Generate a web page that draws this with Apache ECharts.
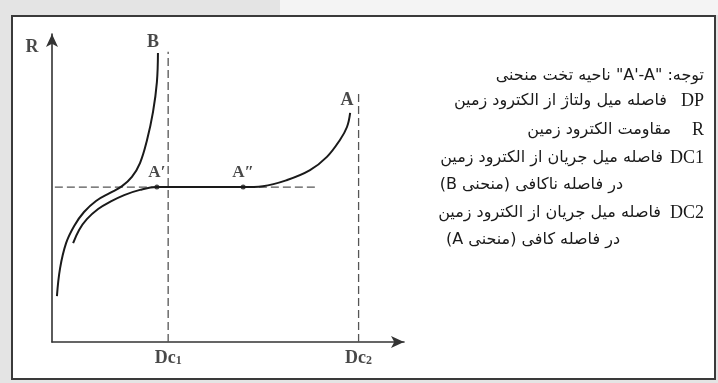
<!DOCTYPE html>
<html>
<head>
<meta charset="utf-8">
<script src="https://cdn.jsdelivr.net/npm/echarts@6/dist/echarts.min.js"></script>
<style>
html, body { margin: 0; padding: 0; background: #e4e4e4; }
#main { width: 718px; height: 383px; }
</style>
</head>
<body>
<div id="main"></div>
<script>
// curve B (electrode too close)
var bX = [1.4, 2.3, 4.0, 6.3, 9.1, 12.5, 16.5, 19.9, 22.7, 25.0, 27.0, 28.7, 29.8, 30.1];
var bY = [14.9, 24.0, 32.1, 37.7, 42.2, 45.8, 48.4, 50.6, 53.6, 58.1, 65.6, 74.7, 84.4, 93.8];
// curve A (enough distance, flat part A'-A")
var aX = [6.0, 7.7, 9.9, 13.1, 16.5, 20.5, 25.0, 29.8, 54.3, 59.9, 66.8, 73.3, 78.1, 81.8, 83.8, 84.7];
var aY = [32.1, 36.4, 39.9, 43.2, 45.5, 47.7, 49.4, 50.3, 50.3, 50.6, 52.6, 55.8, 60.1, 65.6, 69.8, 74.4];

var flatY = 50.3;
var flatDashX = [-2.6, 75.3];
var dcX = [33.0, 87.1];
var dcTop = [94.2, 81.8];
var dcSub = ['1', '2'];

var pointNames = ['A\u2032', 'A\u2033'];
var pointX = [29.8, 54.3];
var curveNames = ['B', 'A'];
var curveLabelX = [28.7, 83.8];
var curveLabelY = [97.4, 78.6];

var noteKeys = ['', 'DP', 'R', 'DC1', '', 'DC2', ''];
var noteLines = [
  'توجه: "A\'-A" ناحیه تخت منحنی',
  'فاصله میل ولتاژ از الکترود زمین',
  'مقاومت الکترود زمین',
  'فاصله میل جریان از الکترود زمین',
  'در فاصله ناکافی (منحنی B)',
  'فاصله میل جریان از الکترود زمین',
  'در فاصله کافی (منحنی A)'
];

// layout of the note block (pixels)
var noteTop = [76, 101, 130, 158, 185, 213, 240];
var noteRight = [704, 667, 671, 663, 623, 661, 620];

function pairs(xs, ys) {
  return xs.map(function (x, i) { return [x, ys[i]]; });
}

var chart = echarts.init(document.getElementById('main'));
var serif = '"Liberation Serif", "Times New Roman", serif';
var ink = '#1a1a1a';
var dashStyle = { color: '#555', width: 1.3, type: [8, 4] };

var graphics = [
  { type: 'rect', z: -20, shape: { x: 280, y: 0, width: 438, height: 15 }, style: { fill: '#f4f4f4' } },
  {
    type: 'rect', z: -10,
    shape: { x: 12, y: 16, width: 703, height: 363 },
    style: { fill: '#fff', stroke: '#3a3a3a', lineWidth: 2 }
  }
];
noteLines.forEach(function (t, i) {
  graphics.push({
    type: 'text',
    style: {
      text: '\u202B' + t + '\u202C', x: noteRight[i], y: noteTop[i],
      align: 'right', verticalAlign: 'middle',
      font: '16px "DejaVu Sans", sans-serif', fill: ink
    }
  });
  if (noteKeys[i]) {
    graphics.push({
      type: 'text',
      style: {
        text: noteKeys[i], x: 704, y: noteTop[i],
        align: 'right', verticalAlign: 'middle',
        font: '18px ' + serif, fill: ink
      }
    });
  }
});

var option = {
  animation: false,
  backgroundColor: '#e4e4e4',
  graphic: graphics,
  grid: { left: 52, right: 314, top: 34, bottom: 41 },
  xAxis: {
    type: 'value', min: 0, max: 100,
    axisLine: { onZero: false, symbol: ['none', 'arrow'], symbolSize: [9, 13], lineStyle: { color: '#333', width: 1.6 } },
    axisTick: { show: false }, axisLabel: { show: false }, splitLine: { show: false }
  },
  yAxis: {
    type: 'value', min: 0, max: 100,
    axisLine: { show: true, onZero: false, symbol: ['none', 'arrow'], symbolSize: [9, 13], lineStyle: { color: '#333', width: 1.6 } },
    axisTick: { show: false }, axisLabel: { show: false }, splitLine: { show: false }
  },
  series: [
    {
      type: 'line', data: pairs(flatDashX, [flatY, flatY]), clip: false,
      symbol: 'none', lineStyle: dashStyle
    },
    {
      type: 'line', data: [[dcX[0], 0], [dcX[0], dcTop[0]]],
      symbol: 'none', lineStyle: dashStyle
    },
    {
      type: 'line', data: [[dcX[1], 0], [dcX[1], dcTop[1]]],
      symbol: 'none', lineStyle: dashStyle
    },
    {
      name: 'B', type: 'line', data: pairs(bX, bY), smooth: 0.4,
      symbol: 'none', lineStyle: { color: ink, width: 2 }
    },
    {
      name: 'A', type: 'line', data: pairs(aX, aY), smooth: 0.4,
      symbol: 'none', lineStyle: { color: ink, width: 2 }
    },
    {
      type: 'scatter', data: pairs(pointX, [flatY, flatY]), symbolSize: 5,
      itemStyle: { color: ink },
      label: {
        show: true, position: 'top', distance: 3,
        formatter: function (p) { return pointNames[p.dataIndex]; },
        fontFamily: serif, fontWeight: 'bold', fontSize: 17, color: ink
      }
    },
    {
      type: 'scatter', data: pairs(curveLabelX, curveLabelY), symbolSize: 0,
      label: {
        show: true, position: 'inside',
        formatter: function (p) { return curveNames[p.dataIndex]; },
        fontFamily: serif, fontWeight: 'bold', fontSize: 18, color: ink
      }
    },
    {
      type: 'scatter', data: [[-5.7, 95.8]], symbolSize: 0, clip: false,
      label: {
        show: true, position: 'inside', formatter: 'R',
        fontFamily: serif, fontWeight: 'bold', fontSize: 18, color: ink
      }
    },
    {
      type: 'scatter', data: pairs(dcX, [-5.2, -5.2]), symbolSize: 0, clip: false,
      label: {
        show: true, position: 'inside',
        formatter: function (p) { return '{m|Dc}{s|' + dcSub[p.dataIndex] + '}'; },
        rich: {
          m: { fontFamily: serif, fontWeight: 'bold', fontSize: 18, color: ink, lineHeight: 18, verticalAlign: 'bottom' },
          s: { fontFamily: serif, fontWeight: 'bold', fontSize: 12, color: ink, lineHeight: 14, verticalAlign: 'bottom' }
        }
      }
    }
  ]
};
chart.setOption(option);
</script>
</body>
</html>
